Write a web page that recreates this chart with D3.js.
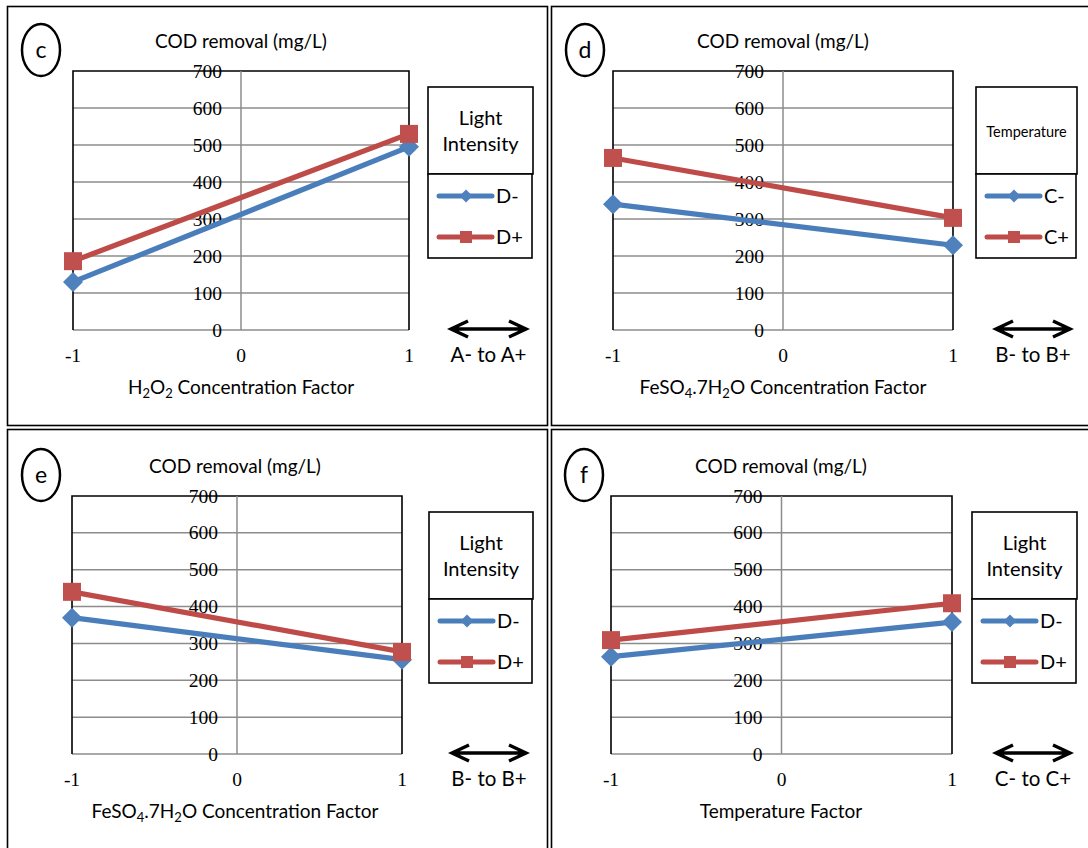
<!DOCTYPE html>
<html>
<head>
<meta charset="utf-8">
<script src="https://cdn.jsdelivr.net/npm/d3@7"></script>
<style>
  body { margin: 0; background: #fff; }
  svg { display: block; }
</style>
</head>
<body>
<svg width="1088" height="848"></svg>
<script>
// shared
const xLevels = [-1, 0, 1]
const yTicks = [0, 100, 200, 300, 400, 500, 600, 700]
const blue = '#4A7EBB', blueFill = '#4F81BD'
const red = '#BE4B48', redFill = '#C0504D'
const sans = 'Lato, "Open Sans", sans-serif'
const serif = '"Liberation Serif", "Times New Roman", serif'

// panel c: H2O2 factor, series by light intensity
const cLow = [130, 495]
const cHigh = [186, 530]
// panel d: FeSO4 factor, series by temperature
const dLow = [340, 229]
const dHigh = [465, 303]
// panel e: FeSO4 factor, series by light intensity
const eLow = [370, 256]
const eHigh = [440, 277]
// panel f: temperature factor, series by light intensity
const fLow = [264, 358]
const fHigh = [309, 409]

const svg = d3.select('svg')

// panel frames
function frame(x, y, w, h) {
    svg.append('rect')
        .attr('x', x).attr('y', y).attr('width', w).attr('height', h)
        .style('fill', 'none').style('stroke', '#000').style('stroke-width', 1.6)
}
frame(7.5, 6.5, 540, 419)
frame(551.5, 6.5, 545, 419)
frame(7.5, 429.5, 540, 430)
frame(551.5, 429.5, 545, 430)

function diamond(g, x, y, r, fill) {
    g.append('path')
        .attr('d', `M${x},${y - r}L${x + r},${y}L${x},${y + r}L${x - r},${y}Z`)
        .style('fill', fill)
}
function square(g, x, y, s, fill) {
    g.append('rect')
        .attr('x', x - s / 2).attr('y', y - s / 2).attr('width', s).attr('height', s)
        .style('fill', fill)
}

function drawPanel(p) {
    const x = d3.scaleLinear().domain([-1, 1]).range([p.left, p.right])
    const y = d3.scaleLinear().domain([0, 700]).range([p.bottom, p.top])
    const g = svg.append('g')

    // gridlines
    g.append('g').selectAll('line').data(yTicks.slice(0, -1)).join('line')
        .attr('x1', p.left).attr('x2', p.right)
        .attr('y1', d => y(d)).attr('y2', d => y(d))
        .style('stroke', '#8c8c8c').style('stroke-width', 1.5)

    // plot border
    g.append('path')
        .attr('d', `M${p.left},${y(0)}V${y(700)}H${p.right}V${y(0)}`)
        .style('fill', 'none').style('stroke', '#000').style('stroke-width', 1.6)

    // vertical axis at x = 0
    g.append('line')
        .attr('x1', x(0)).attr('x2', x(0)).attr('y1', y(700)).attr('y2', y(0))
        .style('stroke', '#8c8c8c').style('stroke-width', 1.5)

    // y tick labels next to the centre axis
    g.append('g').selectAll('text').data(yTicks).join('text')
        .attr('x', x(0) - 19).attr('y', d => y(d) + 6.5)
        .attr('text-anchor', 'end')
        .style('font-family', serif).style('font-size', '19.5px')
        .text(d => d)

    // x tick labels
    g.append('g').selectAll('text').data(xLevels).join('text')
        .attr('x', d => x(d)).attr('y', p.bottom + 32)
        .attr('text-anchor', 'middle')
        .style('font-family', serif).style('font-size', '19.5px')
        .text(d => d)

    // series
    const line = d3.line().x(d => x(d.k)).y(d => y(d.v))
    const low = [-1, 1].map((k, i) => ({ k, v: p.low[i] }))
    const high = [-1, 1].map((k, i) => ({ k, v: p.high[i] }))
    g.append('path').datum(low).attr('d', line)
        .style('fill', 'none').style('stroke', blue).style('stroke-width', 5.2)
    low.forEach(d => diamond(g, x(d.k), y(d.v), 10, blueFill))
    g.append('path').datum(high).attr('d', line)
        .style('fill', 'none').style('stroke', red).style('stroke-width', 5.2)
    high.forEach(d => square(g, x(d.k), y(d.v), 18, redFill))

    // title
    g.append('text')
        .attr('x', p.titleX).attr('y', p.top - 23)
        .attr('text-anchor', 'middle')
        .style('font-family', sans).style('font-size', '19px')
        .text('COD removal (mg/L)')

    // x title
    const xt = g.append('text')
        .attr('x', p.titleX).attr('y', p.bottom + 64)
        .attr('text-anchor', 'middle')
        .style('font-family', sans).style('font-size', '19px')
    p.xTitle.forEach(part => {
        const t = xt.append('tspan').text(part.t)
        if (part.sub) t.attr('baseline-shift', '-30%').style('font-size', '13px')
    })

    // panel letter
    g.append('ellipse')
        .attr('cx', p.circleX).attr('cy', p.top - 21).attr('rx', 19).attr('ry', 26)
        .style('fill', 'none').style('stroke', '#000').style('stroke-width', 2.5)
    g.append('text')
        .attr('x', p.circleX).attr('y', p.top - 13)
        .attr('text-anchor', 'middle')
        .style('font-family', sans).style('font-size', '23px')
        .text(p.letter)

    // legend
    const lx = p.legX, lw = p.legW, ly = p.top + 16
    g.append('rect').attr('x', lx).attr('y', ly).attr('width', lw).attr('height', 87)
        .style('fill', '#fff').style('stroke', '#000').style('stroke-width', 1.6)
    g.append('rect').attr('x', lx).attr('y', ly + 87).attr('width', lw - 1).attr('height', 84)
        .style('fill', '#fff').style('stroke', '#000').style('stroke-width', 1.6)
    if (p.legTitle.length === 2) {
        p.legTitle.forEach((t, i) => {
            g.append('text')
                .attr('x', lx + lw / 2).attr('y', ly + 38 + i * 26)
                .attr('text-anchor', 'middle')
                .style('font-family', sans).style('font-size', '20px')
                .text(t)
        })
    } else {
        g.append('text')
            .attr('x', lx + lw / 2).attr('y', ly + 50)
            .attr('text-anchor', 'middle')
            .style('font-family', sans).style('font-size', '14.5px')
            .text(p.legTitle[0])
    }
    const entries = [
        { name: p.names[0], color: blue, fill: blueFill, mark: 'd' },
        { name: p.names[1], color: red, fill: redFill, mark: 's' }
    ]
    entries.forEach((e, i) => {
        const ey = ly + 109 + i * 41
        g.append('line')
            .attr('x1', lx + 11).attr('x2', lx + 64).attr('y1', ey).attr('y2', ey)
            .style('stroke', e.color).style('stroke-width', 5).style('stroke-linecap', 'round')
        if (e.mark === 'd') diamond(g, lx + 38, ey, 6.5, e.fill)
        else square(g, lx + 38, ey, 12, e.fill)
        g.append('text')
            .attr('x', lx + 68).attr('y', ey + 7)
            .style('font-family', sans).style('font-size', '20px')
            .text(e.name)
    })

    // direction arrow
    const ay = p.bottom - 1
    g.append('path')
        .attr('d', `M${p.arrowX0 + 3},${ay}H${p.arrowX1 - 3}`
            + `M${p.arrowX0 + 19},${ay - 8}L${p.arrowX0 + 2},${ay}L${p.arrowX0 + 19},${ay + 8}`
            + `M${p.arrowX1 - 19},${ay - 8}L${p.arrowX1 - 2},${ay}L${p.arrowX1 - 19},${ay + 8}`)
        .style('fill', 'none').style('stroke', '#000').style('stroke-width', 3.4)
    g.append('text')
        .attr('x', (p.arrowX0 + p.arrowX1) / 2).attr('y', p.bottom + 32)
        .attr('text-anchor', 'middle')
        .style('font-family', sans).style('font-size', '20.5px')
        .text(p.arrowLabel)
}

drawPanel({
    letter: 'c', left: 73, right: 409, top: 71, bottom: 330,
    low: cLow, high: cHigh, titleX: 241, circleX: 41,
    xTitle: [{ t: 'H' }, { t: '2', sub: true }, { t: 'O' }, { t: '2', sub: true }, { t: ' Concentration Factor' }],
    legX: 428, legW: 105, legTitle: ['Light', 'Intensity'], names: ['D-', 'D+'],
    arrowX0: 449, arrowX1: 528, arrowLabel: 'A- to A+'
})
drawPanel({
    letter: 'd', left: 613, right: 953, top: 71, bottom: 330,
    low: dLow, high: dHigh, titleX: 783, circleX: 585,
    xTitle: [{ t: 'FeSO' }, { t: '4', sub: true }, { t: '.7H' }, { t: '2', sub: true }, { t: 'O Concentration Factor' }],
    legX: 976, legW: 101, legTitle: ['Temperature'], names: ['C-', 'C+'],
    arrowX0: 994, arrowX1: 1072, arrowLabel: 'B- to B+'
})
drawPanel({
    letter: 'e', left: 72, right: 402, top: 496, bottom: 754,
    low: eLow, high: eHigh, titleX: 235, circleX: 41,
    xTitle: [{ t: 'FeSO' }, { t: '4', sub: true }, { t: '.7H' }, { t: '2', sub: true }, { t: 'O Concentration Factor' }],
    legX: 429, legW: 104, legTitle: ['Light', 'Intensity'], names: ['D-', 'D+'],
    arrowX0: 450, arrowX1: 528, arrowLabel: 'B- to B+'
})
drawPanel({
    letter: 'f', left: 611, right: 952, top: 496, bottom: 754,
    low: fLow, high: fHigh, titleX: 781, circleX: 584,
    xTitle: [{ t: 'Temperature Factor' }],
    legX: 972, legW: 105, legTitle: ['Light', 'Intensity'], names: ['D-', 'D+'],
    arrowX0: 994, arrowX1: 1072, arrowLabel: 'C- to C+'
})
</script>
</body>
</html>
